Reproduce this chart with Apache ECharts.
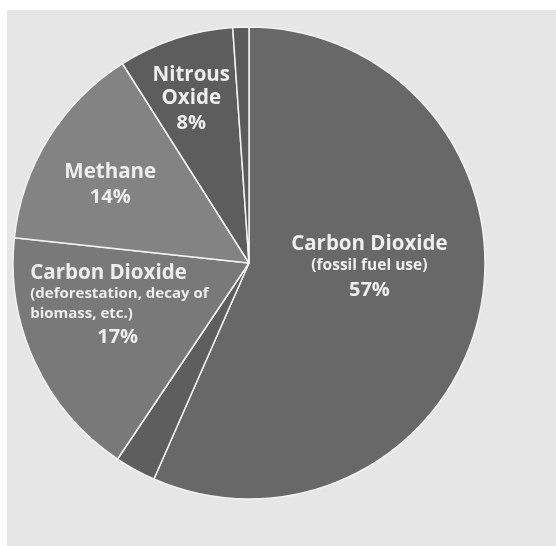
<!DOCTYPE html>
<html>
<head>
<meta charset="utf-8">
<script src="https://cdn.jsdelivr.net/npm/echarts@6/dist/echarts.min.js"></script>
<style>
  html, body { margin: 0; padding: 0; background: #ffffff; }
  #chart { position: absolute; left: 7px; top: 10px; width: 549px; height: 536px; }
</style>
</head>
<body>
<div id="chart"></div>
<script>
// 温室气体排放构成 (clockwise from 12 o'clock)
var gasNames = ['Carbon Dioxide (fossil fuel use)', 'Carbon Dioxide (other)', 'Carbon Dioxide (deforestation)', 'Methane', 'Nitrous Oxide', 'F-gases'];
var gasShares = [56.6, 2.8, 17.3, 14.3, 7.9, 1.1];
var sliceColors = ['#686868', '#5e5e5e', '#797979', '#838383', '#5d5d5d', '#5b5b5b'];
var labelTexts = [
    '{t|Carbon Dioxide}\n{s|(fossil fuel use)}\n{p|57%}',
    '',
    '{tl|Carbon Dioxide}\n{sl|(deforestation, decay of}\n{sl|biomass, etc.)}\n{ql|17%}',
    '{t|Methane}\n{p|14%}',
    '{t|Nitrous}\n{t|Oxide}\n{p|8%}',
    ''
];
var labelOffsets = [[2, -20], [0, 0], [-20, -8], [-36, -13], [-20, -48], [0, 0]];

var chart = echarts.init(document.getElementById('chart'));

var font = 'Open Sans';
var txtColor = '#eeeeee';
var richStyle = {
    t: { fontFamily: font, fontSize: 20.5, fontWeight: 'bold', color: txtColor, lineHeight: 23 },
    s: { fontFamily: font, fontSize: 15.5, fontWeight: 'bold', color: txtColor, lineHeight: 21 },
    p: { fontFamily: font, fontSize: 20, fontWeight: 'bold', color: txtColor, lineHeight: 27 },
    tl: { fontFamily: font, fontSize: 20.5, fontWeight: 'bold', color: txtColor, lineHeight: 23, align: 'left' },
    sl: { fontFamily: font, fontSize: 15, fontWeight: 'bold', color: txtColor, lineHeight: 20, align: 'left' },
    ql: { fontFamily: font, fontSize: 20, fontWeight: 'bold', color: txtColor, lineHeight: 27, align: 'left', padding: [0, 0, 0, 67] }
};

var seriesData = gasNames.map(function (name, i) {
    return {
        name: name,
        value: gasShares[i],
        itemStyle: { color: sliceColors[i] },
        label: {
            show: labelTexts[i] !== '',
            formatter: labelTexts[i],
            offset: labelOffsets[i]
        }
    };
});

chart.setOption({
    backgroundColor: '#e6e6e6',
    animation: false,
    series: [
        {
            type: 'pie',
            center: [242, 253],
            radius: [0, 236],
            startAngle: 90,
            clockwise: true,
            avoidLabelOverlap: false,
            itemStyle: { borderColor: '#f2f2f2', borderWidth: 1.5 },
            label: {
                position: 'inside',
                rich: richStyle
            },
            labelLine: { show: false },
            emphasis: { disabled: true },
            data: seriesData
        }
    ]
});
</script>
</body>
</html>
